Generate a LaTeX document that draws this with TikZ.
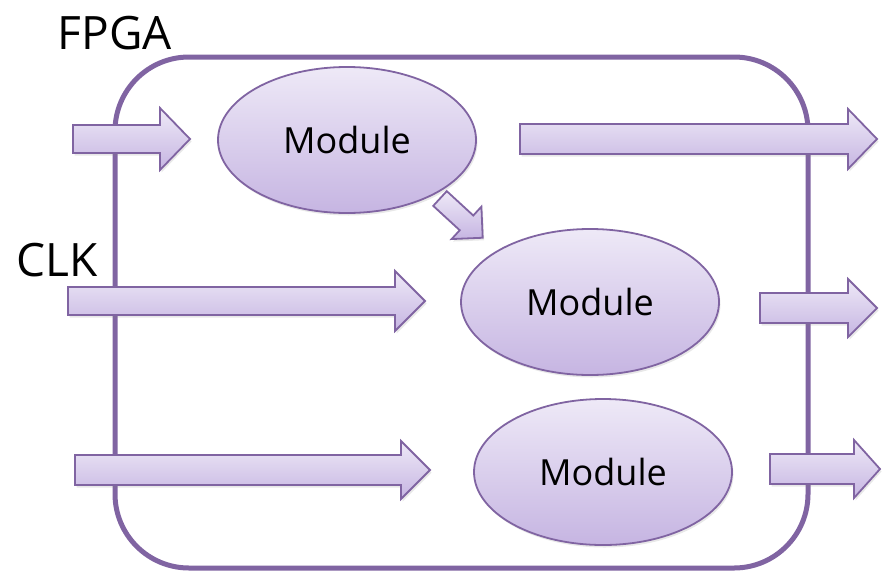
\documentclass[tikz,border=0pt]{standalone}
\usepackage{fontspec}
\setmainfont{Open Sans}
\usetikzlibrary{shapes.geometric,shadows}
\definecolor{frameviolet}{HTML}{8064A2}
\definecolor{filltop}{HTML}{EEE9F7}
\definecolor{fillbot}{HTML}{C6B5E2}
\tikzset{
  softshadow/.style={drop shadow={opacity=0.18, shadow xshift=1.5pt, shadow yshift=-2.5pt}},
  module/.style={ellipse, draw=frameviolet, line width=1.8pt,
    top color=filltop, bottom color=fillbot, minimum width=258pt,
    minimum height=146pt, inner sep=0pt,
    font=\fontsize{36}{40}\selectfont, softshadow},
  arrowbody/.style={draw=frameviolet, line width=1.8pt, line join=miter,
    top color=filltop, bottom color=fillbot, softshadow},
  caption/.style={font=\fontsize{46}{50}\selectfont, inner sep=0pt},
  % block arrow: length / half body width / half head width / head length
  pics/blockarrow/.style args={#1/#2/#3/#4}{code={
    \path[arrowbody] (0,{-#2}) -- ({#1-#4},{-#2}) -- ({#1-#4},{-#3})
      -- (#1,0) -- ({#1-#4},#3) -- ({#1-#4},#2) -- (0,#2) -- cycle;
  }}
}
\begin{document}
\begin{tikzpicture}[x=1pt,y=-1pt]
\useasboundingbox (0,0) rectangle (882,573);

% FPGA outline
\draw[frameviolet, line width=5pt, rounded corners=74pt] (115,57) rectangle (808,568);

\node[caption] (fpga) at (115,33) {FPGA};
\node[caption] (clk) at (57,260) {CLK};

% signal arrows
\pic (inA)  at (73,139)  {blockarrow=117/14/31/30};
\pic (outA) at (520,139) {blockarrow=357/15/30/29};
\pic (clkin) at (68,301) {blockarrow=357/14/30/30};
\pic (outB) at (760,308) {blockarrow=117/15/29/29};
\pic (inC)  at (75,470)  {blockarrow=355/15/29/29};
\pic (outC) at (770,469) {blockarrow=110/15/29/26};
\pic[rotate=-42.6] (link) at (440,198.5) {blockarrow=58/10/22/22};

% modules
\node[module] (m1) at (347,140) {Module};
\node[module] (m2) at (590,302) {Module};
\node[module] (m3) at (603,472) {Module};
\end{tikzpicture}
\end{document}
